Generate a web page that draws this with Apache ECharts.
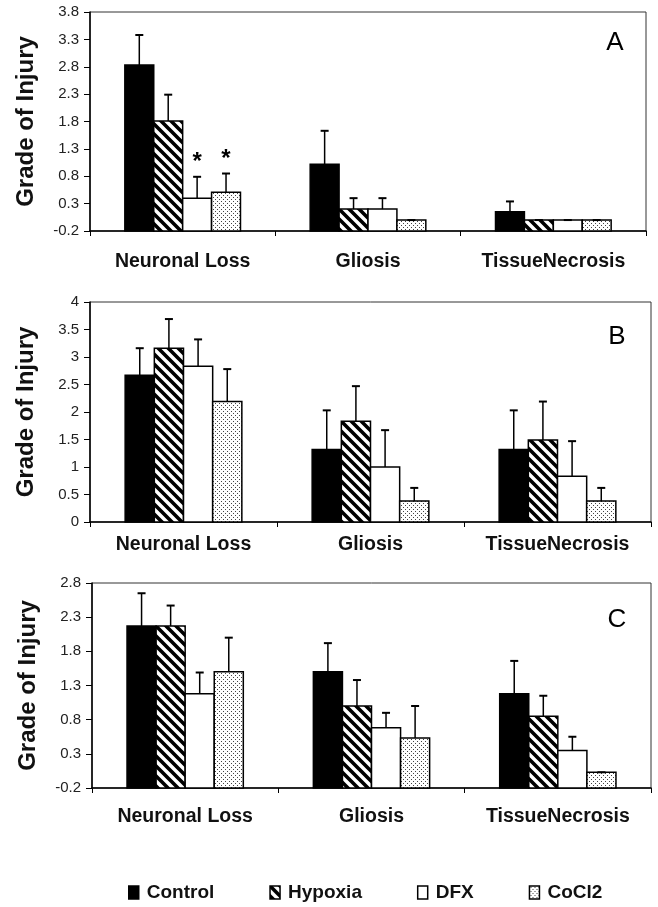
<!DOCTYPE html>
<html>
<head>
<meta charset="utf-8">
<script src="https://cdn.jsdelivr.net/npm/echarts@6/dist/echarts.min.js"></script>
<style>
html,body{margin:0;padding:0;background:#fff;}
#chart{width:658px;height:907px;}
</style>
</head>
<body>
<div id="chart"></div>
<script>
// ---- data ----
const categories = ['Neuronal Loss', 'Gliosis', 'TissueNecrosis'];
const groups = ['Control', 'Hypoxia', 'DFX', 'CoCl2'];
const panelLetters = ['A', 'B', 'C'];

// means [group][category]
const meanA = [[2.83, 1.02, 0.15], [1.81, 0.20, 0.00], [0.40, 0.20, 0.00], [0.51, 0.00, 0.00]];
const sdA   = [[0.55, 0.61, 0.19], [0.48, 0.20, 0.00], [0.39, 0.20, 0.00], [0.34, 0.00, 0.00]];
const meanB = [[2.67, 1.32, 1.32], [3.16, 1.83, 1.49], [2.83, 1.00, 0.83], [2.19, 0.38, 0.38]];
const sdB   = [[0.49, 0.71, 0.71], [0.53, 0.64, 0.70], [0.49, 0.67, 0.64], [0.59, 0.24, 0.24]];
const meanC = [[2.17, 1.50, 1.18], [2.17, 1.00, 0.85], [1.18, 0.68, 0.35], [1.50, 0.53, 0.03]];
const sdC   = [[0.48, 0.42, 0.48], [0.30, 0.38, 0.30], [0.31, 0.22, 0.20], [0.50, 0.47, 0.00]];
// significance markers: [panel, group, category]
const significance = [[0, 2, 0], [0, 3, 0]];

// axis tick values
const ticksA = [-0.2, 0.3, 0.8, 1.3, 1.8, 2.3, 2.8, 3.3, 3.8];
const ticksB = [0, 0.5, 1, 1.5, 2, 2.5, 3, 3.5, 4];
const ticksC = [-0.2, 0.3, 0.8, 1.3, 1.8, 2.3, 2.8];

// ---- patterns ----
function makeStripe() {
  const n = 10;
  const c = document.createElement('canvas');
  c.width = n; c.height = n;
  const ctx = c.getContext('2d');
  ctx.fillStyle = '#fff'; ctx.fillRect(0, 0, n, n);
  ctx.strokeStyle = '#000'; ctx.lineWidth = 3.6;
  ctx.beginPath();
  ctx.moveTo(-n, -n); ctx.lineTo(2 * n, 2 * n);
  ctx.moveTo(-n, 0); ctx.lineTo(n, 2 * n);
  ctx.moveTo(0, -n); ctx.lineTo(2 * n, n);
  ctx.stroke();
  return c;
}
function makeDots() {
  const c = document.createElement('canvas');
  c.width = 4; c.height = 4;
  const ctx = c.getContext('2d');
  ctx.fillStyle = '#fff'; ctx.fillRect(0, 0, 4, 4);
  ctx.fillStyle = '#444';
  ctx.fillRect(1, 1, 1, 1);
  ctx.fillRect(3, 3, 1, 1);
  return c;
}
const fills = [
  '#000',
  { image: makeStripe(), repeat: 'repeat' },
  '#fff',
  { image: makeDots(), repeat: 'repeat' }
];

const FONT = "'Liberation Sans', Arial, sans-serif";
const BAR_FRAC = 0.156;

const panels = [
  { mean: meanA, sd: sdA, ticks: ticksA, min: -0.2, max: 3.8, grid: { left: 90, top: 12, right: 12, height: 219 }, labelMargin: 21, fmt: v => v.toFixed(1), letter: [615, 43] },
  { mean: meanB, sd: sdB, ticks: ticksB, min: 0, max: 4, grid: { left: 90, top: 302, right: 7, height: 220 }, labelMargin: 13, fmt: v => String(v), letter: [617, 337] },
  { mean: meanC, sd: sdC, ticks: ticksC, min: -0.2, max: 2.8, grid: { left: 92, top: 583, right: 7, height: 205 }, labelMargin: 19, fmt: v => v.toFixed(1), letter: [617, 620] }
];

const grids = [], xAxes = [], yAxes = [], series = [], graphics = [];

panels.forEach((p, pi) => {
  grids.push(Object.assign({ show: true, borderColor: '#333', borderWidth: 1, backgroundColor: '#fff' }, p.grid));
  xAxes.push({
    type: 'category', gridIndex: pi, data: categories,
    axisLine: { onZero: false, lineStyle: { color: '#000', width: 1.5 } },
    axisTick: { show: true, length: 5, inside: false, lineStyle: { color: '#000' } },
    axisLabel: { interval: 0, hideOverlap: false, margin: p.labelMargin, fontFamily: FONT, fontSize: 19.5, fontWeight: 'bold', color: '#111' }
  });
  yAxes.push({
    type: 'value', gridIndex: pi, min: p.min, max: p.max,
    name: 'Grade of Injury', nameLocation: 'middle', nameRotate: 90, nameGap: 52,
    nameTextStyle: { fontFamily: FONT, fontSize: 24, fontWeight: 'bold', color: '#111' },
    axisLine: { show: true, onZero: false, lineStyle: { color: '#000', width: 1.5 } },
    axisTick: { show: true, length: 6, customValues: p.ticks, lineStyle: { color: '#000' } },
    axisLabel: { customValues: p.ticks, margin: 11, fontFamily: FONT, fontSize: 15, color: '#222', formatter: p.fmt },
    splitLine: { show: false }
  });
  groups.forEach((gName, gi) => {
    const data = categories.map((c, ci) => [ci, p.mean[gi][ci], p.mean[gi][ci] + p.sd[gi][ci]]);
    const yMin = p.min;
    series.push({
      type: 'custom', name: gName, xAxisIndex: pi, yAxisIndex: pi,
      itemStyle: { color: fills[gi], borderColor: '#000', borderWidth: 1.5 },
      data: data,
      renderItem: function (params, api) {
        const ci = api.value(0), v = api.value(1), top = api.value(2);
        const bandW = api.size([1, 0])[0];
        const barW = bandW * BAR_FRAC;
        const base = api.coord([ci, yMin]);
        const pt = api.coord([ci, v]);
        const et = api.coord([ci, top]);
        const x = base[0] - 2 * barW + gi * barW;
        const cx = x + barW / 2;
        const children = [
          { type: 'rect', shape: { x: x, y: pt[1], width: barW, height: base[1] - pt[1] },
            style: { fill: fills[gi], stroke: '#000', lineWidth: 1.5 } },
          { type: 'line', shape: { x1: cx, y1: pt[1], x2: cx, y2: et[1] }, style: { stroke: '#000', lineWidth: 1.5 } },
          { type: 'line', shape: { x1: cx - 4, y1: et[1], x2: cx + 4, y2: et[1] }, style: { stroke: '#000', lineWidth: 2 } }
        ];
        significance.forEach(s => {
          if (s[0] === pi && s[1] === gi && s[2] === ci) {
            children.push({ type: 'text', x: cx, y: et[1] - 14,
              style: { text: '*', fontFamily: FONT, fontSize: 24, fontWeight: 'bold', fill: '#000', align: 'center', verticalAlign: 'middle' } });
          }
        });
        return { type: 'group', children: children };
      }
    });
  });
  graphics.push({ type: 'text', x: p.letter[0], y: p.letter[1],
    style: { text: panelLetters[pi], fontFamily: FONT, fontSize: 26, fill: '#000', align: 'center', verticalAlign: 'middle' } });
});

const chart = echarts.init(document.getElementById('chart'), null, { renderer: 'canvas' });
chart.setOption({
  animation: false,
  backgroundColor: '#fff',
  grid: grids,
  xAxis: xAxes,
  yAxis: yAxes,
  series: series,
  graphic: graphics,
  legend: {
    data: groups.map(g => ({ name: g, icon: 'rect' })),
    left: 128, top: 883, padding: 0,
    itemWidth: 10, itemHeight: 13, itemGap: 55,
    selectedMode: false,
    textStyle: { fontFamily: FONT, fontSize: 19, fontWeight: 'bold', color: '#111', padding: [0, 0, 0, 3] },
    itemStyle: { borderColor: '#000', borderWidth: 1.5 }
  }
});
</script>
</body>
</html>
